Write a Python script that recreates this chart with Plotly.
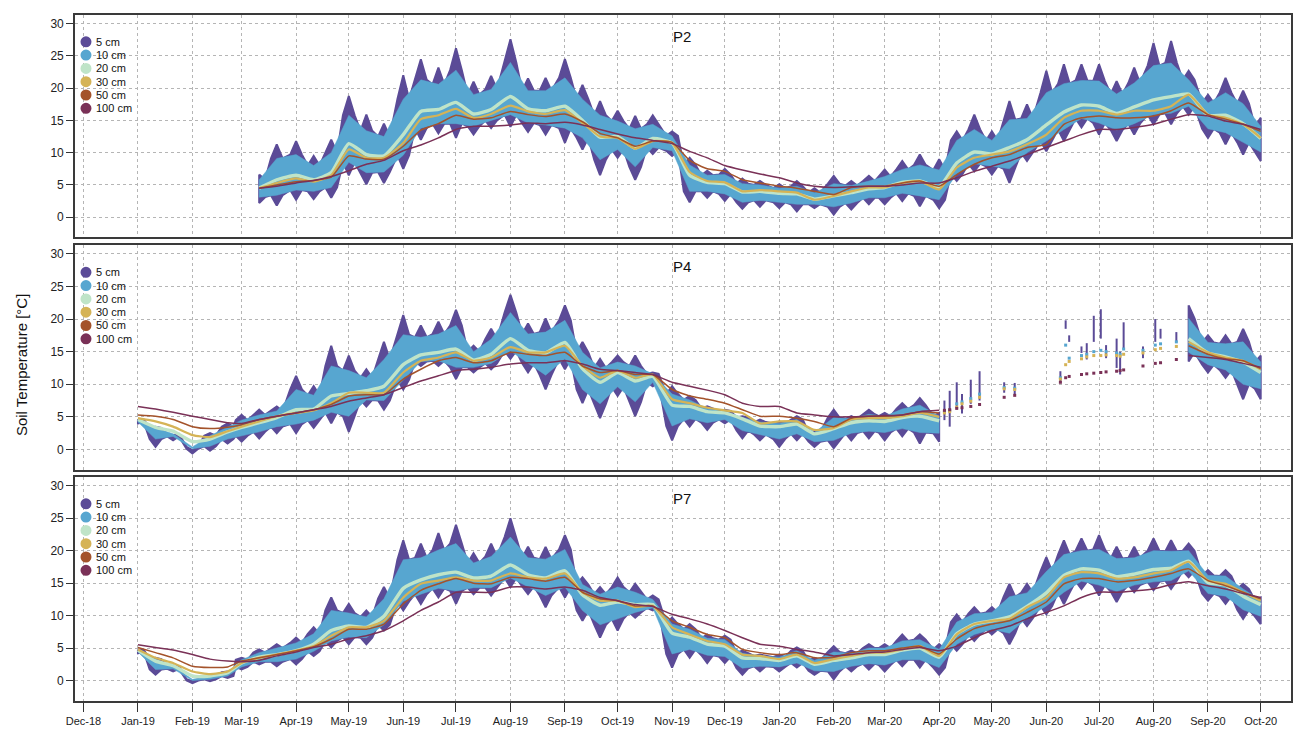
import plotly.graph_objects as go
import pandas as pd

# ---------------- data (dekad grid: 1st, 11th, 21st of each month) ----------------
dates = []
for yr, mo in [(2019, m) for m in range(1, 13)] + [(2020, m) for m in range(1, 10)]:
    for dd in (1, 11, 21):
        dates.append(f"{yr}-{mo:02d}-{dd:02d}")
dates.append("2020-10-01")

N = None
# ---- P2 ----
p2_t5_hi = [N]*7 + [6.6, 11.3, 11.8, 9.5, 12.0, 18.8, 15.9, 14.5, 22.0, 24.5, 23.2, 26.2, 21.0, 21.9, 27.6, 21.5, 21.6, 24.5, 20.5, 18.0, 16.5, 15.7, 15.8, 13.3, 9.2, 7.2, 7.5, 6.0, 5.6,
                5.1, 5.6, 4.5, 6.4, 5.6, 6.4, 7.4, 8.7, 9.7, 9.0, 13.3, 15.9, 13.3, 18.0, 17.5, 22.7, 23.7, 23.7, 23.7, 21.1, 23.2, 27.0, 27.3, 22.7, 19.0, 21.6, 19.6, 15.4]
p2_t5_lo = [N]*7 + [2.2, 1.8, 2.7, 2.8, 3.0, 6.5, 5.1, 5.3, 7.5, 12.0, 13.0, 12.3, 12.8, 13.8, 14.0, 13.2, 12.8, 11.5, 10.5, 6.5, 9.2, 5.8, 9.8, 9.5, 2.3, 3.0, 2.5, 1.3, 1.6,
                1.4, 0.9, 1.4, 0.4, 1.2, 2.0, 2.0, 2.5, 1.7, 1.4, 5.6, 7.1, 6.6, 5.3, 8.7, 10.2, 11.8, 13.9, 12.8, 11.8, 12.8, 14.4, 14.4, 15.9, 12.3, 11.3, 9.7, 8.7]
p2_t10_hi = [N]*7 + [5.8, 9.1, 9.7, 8.0, 10.0, 15.8, 13.4, 12.5, 18.3, 21.3, 20.6, 22.8, 19.0, 19.8, 24.0, 19.6, 19.6, 21.6, 18.3, 15.8, 14.9, 13.7, 14.4, 12.6, 8.1, 6.5, 6.6, 5.2, 5.0,
                 4.5, 4.8, 3.8, 5.2, 4.9, 5.6, 6.3, 7.4, 8.1, 7.3, 11.9, 13.6, 11.9, 15.1, 15.3, 19.3, 20.7, 21.2, 21.1, 19.1, 20.8, 23.5, 23.9, 21.3, 17.7, 19.3, 17.6, 14.1]
p2_t10_lo = [N]*7 + [3.1, 3.4, 4.2, 4.0, 4.6, 8.5, 6.9, 7.0, 9.6, 13.8, 14.5, 14.5, 14.1, 15.0, 15.9, 14.6, 14.3, 13.8, 12.3, 8.9, 10.5, 7.8, 10.8, 10.3, 4.0, 4.0, 3.6, 2.3, 2.6,
                 2.3, 2.0, 2.0, 1.6, 2.2, 3.0, 3.0, 3.7, 3.3, 2.7, 6.7, 8.3, 7.9, 7.5, 10.0, 11.8, 13.6, 15.3, 14.6, 13.5, 14.5, 15.9, 16.1, 17.2, 13.7, 13.1, 11.6, 10.1]
p2_t20 = [N]*7 + [4.5, 5.8, 6.5, 5.8, 6.9, 11.4, 9.7, 9.5, 12.8, 16.4, 16.7, 17.8, 16.0, 16.7, 18.7, 16.8, 16.5, 17.2, 15.0, 12.4, 12.5, 10.7, 12.2, 11.5, 6.5, 5.4, 5.2, 3.9, 4.0,
              3.7, 3.6, 2.8, 3.3, 3.8, 4.4, 4.6, 5.4, 5.6, 4.7, 8.4, 10.1, 9.8, 10.8, 12.0, 14.3, 16.3, 17.4, 17.2, 16.1, 17.1, 18.2, 18.7, 19.1, 15.8, 15.8, 14.5, 12.2]
p2_t30 = [N]*7 + [4.5, 5.3, 6.0, 5.5, 6.5, 10.5, 9.2, 9.2, 11.5, 15.2, 15.8, 16.8, 15.4, 16.0, 17.3, 16.4, 16.0, 16.6, 14.6, 12.5, 12.3, 10.6, 11.8, 11.5, 7.0, 5.6, 5.4, 4.0, 4.2,
              4.0, 3.8, 2.7, 3.3, 4.0, 4.6, 4.6, 5.3, 5.6, 4.3, 7.7, 9.2, 9.7, 10.2, 11.3, 12.8, 15.4, 16.5, 16.5, 15.9, 16.5, 16.5, 17.2, 19.0, 15.9, 15.4, 14.4, 12.3]
p2_t50 = [N]*7 + [4.5, 5.0, 5.5, 5.7, 6.2, 9.5, 9.0, 9.0, 11.0, 13.5, 14.5, 15.8, 15.2, 15.4, 16.4, 15.9, 15.6, 16.0, 14.8, 13.0, 12.3, 11.0, 11.8, 11.6, 8.8, 7.5, 7.1, 5.8, 5.3,
              4.8, 4.5, 4.0, 3.5, 4.6, 4.8, 4.8, 5.3, 5.6, 4.8, 6.6, 8.2, 9.2, 9.7, 10.8, 11.3, 14.4, 15.4, 15.7, 15.4, 15.4, 15.7, 16.5, 17.7, 15.9, 15.2, 14.4, 13.3]
p2_t100 = [N]*7 + [4.5, 4.8, 5.3, 5.7, 6.3, 7.2, 8.2, 8.8, 10.3, 11.2, 12.3, 13.6, 14.1, 14.1, 14.3, 14.6, 14.5, 14.7, 14.3, 13.6, 12.9, 12.3, 11.9, 11.4, 10.2, 9.2, 8.0, 7.3, 6.7,
               6.1, 5.3, 4.8, 4.6, 4.7, 4.8, 4.8, 5.0, 5.3, 5.3, 6.1, 7.1, 7.9, 8.7, 9.7, 10.8, 11.8, 12.8, 13.6, 13.6, 13.9, 14.4, 15.2, 15.9, 15.7, 14.9, 14.4, 13.6]

# ---- P4 ----
p4_t5_hi = [4.6, 3.5, 2.2, -0.1, 2.5, 4.0, 5.3, 6.1, 6.6, 11.3, 9.7, 15.9, 14.4, 12.3, 16.5, 20.6, 19.0, 19.6, 21.4, 15.9, 18.5, 23.7, 19.3, 20.1, 22.1, 16.5, 13.9, 14.4, 14.4, 11.8, 9.7, 8.2, 6.6, 6.1, 5.1, 4.6,
            4.3, 5.1, 2.8, 6.1, 5.1, 6.1, 5.6, 7.1, 7.9, 5.6] + [N]*13 + [22.1, 17.5, 17.5, 18.5, 14.4]
p4_t5_lo = [4.0, 0.4, 1.4, -0.6, -0.2, 0.9, 1.2, 1.7, 2.5, 2.5, 3.3, 4.0, 2.7, 6.6, 6.1, 9.2, 12.8, 12.8, 10.8, 11.8, 12.3, 13.9, 11.8, 9.2, 12.3, 7.1, 4.8, 8.2, 5.1, 9.7, 1.4, 3.5, 3.0, 4.0, 1.7, 1.4,
            0.4, 1.4, 0.4, 0.2, 1.4, 1.7, 1.4, 2.0, 0.9, 1.2] + [N]*13 + [13.5, 11.8, 11.0, 7.7, 7.7]
p4_t10_hi = [4.6, 3.3, 2.4, 0.4, 2.1, 3.5, 4.5, 5.3, 5.9, 9.2, 8.3, 12.8, 12.1, 11.0, 13.8, 17.6, 17.2, 17.7, 19.0, 15.0, 16.9, 21.0, 17.7, 18.0, 19.8, 14.9, 12.5, 13.4, 12.8, 11.6, 8.5, 7.6, 6.3, 5.9, 4.9, 4.2,
             4.0, 4.6, 2.6, 4.9, 4.7, 5.4, 5.1, 6.2, 6.8, 5.1] + [N]*13 + [20.1, 16.4, 16.2, 16.5, 13.4]
p4_t10_lo = [4.2, 1.6, 2.0, 0.1, 0.5, 1.6, 2.1, 2.7, 3.5, 3.9, 4.5, 5.7, 5.1, 7.6, 7.5, 10.7, 13.5, 13.6, 12.6, 12.6, 13.2, 15.1, 13.2, 11.4, 13.9, 9.2, 7.0, 9.6, 7.3, 10.3, 3.6, 4.7, 4.1, 4.6, 2.9, 2.3,
             1.6, 2.4, 1.2, 1.4, 2.5, 2.8, 2.6, 3.2, 2.6, 2.5] + [N]*13 + [14.9, 13.0, 12.2, 10.0, 9.3]
p4_t20 = [4.6, 3.4, 2.8, 1.2, 1.6, 2.7, 3.4, 4.1, 4.9, 6.1, 6.2, 8.2, 8.6, 9.0, 9.7, 13.0, 14.5, 14.9, 15.4, 13.7, 14.6, 17.0, 15.2, 14.8, 16.4, 12.4, 10.3, 11.8, 10.5, 11.2, 6.8, 6.6, 5.8, 5.6, 4.7, 3.6,
          3.5, 3.9, 2.4, 3.2, 4.1, 4.4, 4.3, 4.9, 5.1, 4.4] + [N]*13 + [17.0, 14.8, 14.2, 13.4, 11.8]
p4_t30 = [4.8, 4.3, 3.5, 2.2, 1.9, 2.8, 3.5, 4.3, 5.1, 5.6, 6.0, 7.1, 8.7, 8.7, 8.7, 11.8, 13.6, 14.1, 14.9, 13.6, 14.1, 15.7, 14.9, 14.9, 15.9, 12.8, 11.0, 12.1, 11.0, 11.5, 7.7, 7.1, 6.4, 6.0, 5.6, 4.0,
          4.3, 4.3, 3.0, 3.3, 4.6, 4.8, 4.8, 5.1, 5.6, 5.0] + [N]*13 + [16.5, 14.9, 14.1, 13.6, 12.3]
p4_t50 = [5.3, 5.1, 4.6, 3.5, 3.2, 3.4, 3.8, 4.6, 5.1, 5.6, 6.1, 6.9, 8.2, 8.4, 8.4, 10.8, 12.3, 13.6, 14.1, 13.3, 13.6, 14.9, 14.6, 14.4, 14.9, 12.8, 11.8, 12.1, 11.5, 11.5, 9.2, 8.2, 7.7, 7.1, 6.1, 5.1,
          5.1, 4.8, 4.3, 3.5, 4.8, 5.1, 5.1, 5.3, 5.8, 5.6] + [N]*13 + [15.9, 14.6, 13.9, 13.6, 12.4]
p4_t100 = [6.6, 6.2, 5.7, 5.1, 4.6, 4.1, 4.0, 4.6, 5.1, 5.6, 6.1, 6.6, 7.4, 7.9, 8.4, 9.5, 10.5, 11.3, 12.1, 12.3, 12.6, 13.1, 13.3, 13.3, 13.6, 13.1, 12.3, 12.1, 11.8, 11.5, 10.3, 9.7, 9.1, 8.4, 7.1, 6.6,
           6.6, 5.6, 5.3, 5.0, 5.0, 5.1, 5.2, 5.3, 5.8, 6.0] + [N]*13 + [14.4, 14.1, 13.8, 13.2, 12.6]

# P4 scattered records, Apr-Aug 2020
p4_frag_dates = ["2020-04-04", "2020-04-07", "2020-04-11", "2020-04-14", "2020-04-19", "2020-04-24", "2020-05-08", "2020-05-14",
                 "2020-06-09", "2020-06-12", "2020-06-14", "2020-06-21", "2020-06-24", "2020-06-28", "2020-07-02", "2020-07-05",
                 "2020-07-11", "2020-07-13", "2020-07-15", "2020-07-26", "2020-08-02", "2020-08-05", "2020-08-14"]
p4_frag_lo5 = [4.5, 3.5, 6.5, 5.5, 7.0, 7.5, 8.7, 8.5, 10.2, 18.5, 16.5, 14.8, 13.8, 16.5, 17.0, 14.0, 12.5, 11.5, 15.5, 14.0, 16.5, 17.0, 16.5]
p4_frag_hi5 = [7.5, 9.0, 10.3, 8.5, 10.7, 12.0, 10.3, 10.2, 12.0, 19.8, 17.5, 15.8, 16.3, 20.5, 21.5, 16.0, 17.0, 15.0, 19.5, 15.8, 20.0, 18.5, 18.0]
p4_frag_t20 = [5.8, 6.0, 7.0, 7.3, 7.8, 8.5, 9.5, 9.4, 11.0, 16.0, 14.0, 14.4, 14.6, 15.0, 15.2, 15.0, 14.8, 14.6, 15.4, 15.2, 16.0, 16.2, 16.5]
p4_frag_t30 = [5.6, 5.8, 6.5, 7.0, 7.4, 8.0, 9.3, 9.2, 10.8, 13.0, 13.5, 13.9, 14.2, 14.4, 14.4, 14.5, 14.4, 14.3, 14.6, 14.8, 15.3, 15.5, 15.8]
p4_frag_t100 = [6.0, 6.1, 6.3, 6.4, 6.6, 6.9, 8.0, 8.3, 10.3, 11.0, 11.2, 11.5, 11.6, 11.7, 11.8, 11.9, 12.0, 12.1, 12.2, 12.8, 13.2, 13.3, 13.8]

# ---- P7 ----
p7_t5_hi = [4.8, 3.5, 2.2, -0.1, 0.7, 1.4, 3.5, 4.8, 5.6, 6.6, 8.2, 12.8, 11.8, 10.8, 14.4, 21.6, 21.1, 22.7, 24.0, 19.6, 21.1, 25.0, 20.6, 20.6, 22.4, 15.9, 14.4, 15.9, 14.9, 13.1, 9.7, 8.7, 7.1, 6.9, 4.6, 4.0,
            4.0, 5.1, 3.5, 5.3, 4.6, 5.6, 5.6, 7.1, 7.1, 5.6, 10.2, 11.3, 11.3, 14.9, 14.9, 19.0, 21.6, 21.9, 22.4, 20.6, 20.6, 21.9, 21.6, 21.1, 17.0, 17.0, 14.9, 12.8]
p7_t5_lo = [4.2, 0.9, 1.4, -0.4, -0.1, 0.4, 1.7, 2.5, 2.2, 2.5, 3.8, 5.1, 5.6, 5.6, 7.7, 10.8, 11.8, 12.8, 11.8, 13.3, 13.1, 14.4, 13.3, 11.3, 12.8, 9.2, 6.6, 7.7, 9.7, 10.8, 2.0, 3.5, 2.7, 2.7, 0.9, 1.4,
            1.4, 2.0, 0.9, 0.2, 1.4, 1.7, 1.4, 2.2, 2.0, 0.9, 4.6, 6.1, 7.1, 5.6, 8.4, 10.2, 11.8, 14.1, 13.1, 12.1, 13.6, 13.9, 14.1, 15.9, 12.3, 11.8, 9.5, 8.7]
p7_t10_hi = [4.7, 3.3, 2.2, 0.2, 0.7, 1.3, 3.2, 4.3, 5.0, 5.8, 7.2, 10.8, 10.4, 9.8, 12.6, 18.6, 18.9, 20.1, 21.1, 18.1, 19.1, 22.1, 18.9, 18.7, 20.2, 14.8, 13.3, 14.4, 13.6, 12.5, 8.7, 7.9, 6.5, 6.3, 4.2, 3.8,
             3.6, 4.6, 3.1, 4.4, 4.2, 5.0, 5.0, 6.1, 6.3, 4.8, 9.0, 10.3, 10.5, 12.9, 13.5, 16.8, 19.4, 20.0, 20.2, 18.8, 18.9, 20.0, 19.9, 20.0, 16.2, 16.1, 14.1, 12.4]
p7_t10_lo = [4.4, 1.7, 1.8, 0.0, 0.2, 0.7, 2.1, 2.9, 2.9, 3.3, 4.5, 6.1, 6.7, 6.6, 8.6, 12.2, 13.3, 14.2, 13.8, 14.3, 14.3, 15.8, 14.5, 13.1, 14.4, 10.8, 8.6, 9.5, 10.5, 11.2, 4.1, 4.8, 3.9, 3.7, 1.9, 2.2,
             2.1, 2.7, 1.5, 1.4, 2.2, 2.6, 2.4, 3.2, 3.2, 2.0, 5.6, 7.1, 7.9, 7.3, 9.6, 11.5, 13.6, 15.3, 14.7, 13.7, 14.7, 15.2, 15.4, 16.9, 13.4, 13.0, 10.9, 9.9]
p7_t20 = [4.7, 3.0, 2.3, 0.7, 0.7, 1.2, 2.7, 3.6, 4.0, 4.6, 5.6, 7.7, 8.4, 8.2, 9.9, 14.2, 15.5, 16.3, 16.7, 15.8, 16.1, 17.8, 16.3, 15.8, 16.9, 13.2, 11.6, 12.1, 11.7, 11.7, 7.3, 6.7, 5.6, 5.3, 3.5, 3.4,
          3.1, 3.8, 2.5, 3.1, 3.5, 4.0, 4.0, 4.7, 5.0, 3.6, 7.2, 8.7, 9.2, 9.8, 11.4, 13.5, 16.2, 17.2, 17.0, 16.0, 16.4, 17.1, 17.3, 18.4, 15.1, 14.7, 13.0, 11.7]
p7_t30 = [4.8, 3.5, 2.7, 1.4, 1.0, 1.4, 2.7, 3.5, 4.0, 4.6, 5.3, 6.9, 8.2, 8.2, 9.2, 12.8, 14.9, 15.4, 15.9, 15.4, 15.4, 16.5, 15.9, 15.7, 16.5, 13.6, 12.3, 12.3, 11.3, 11.5, 8.2, 7.1, 6.1, 5.6, 4.0, 3.8,
          3.3, 4.0, 2.7, 3.3, 3.8, 4.3, 4.3, 4.8, 5.3, 3.8, 7.1, 8.7, 9.2, 9.5, 11.3, 12.8, 15.9, 16.7, 16.5, 15.7, 15.9, 16.5, 17.0, 18.3, 15.4, 14.9, 13.6, 12.3]
p7_t50 = [5.1, 4.3, 3.5, 2.2, 2.0, 2.1, 3.0, 3.5, 4.0, 4.6, 5.2, 6.4, 7.9, 7.9, 8.7, 11.8, 13.9, 14.9, 15.7, 15.0, 14.9, 15.9, 15.7, 15.3, 15.9, 13.6, 12.6, 12.3, 11.5, 11.5, 9.2, 8.2, 7.1, 6.6, 4.8, 4.3,
          4.0, 4.3, 3.5, 3.6, 4.3, 4.6, 4.6, 5.0, 5.3, 4.1, 6.4, 8.0, 8.7, 9.2, 10.5, 12.1, 14.9, 15.7, 15.7, 15.2, 15.4, 15.9, 16.5, 17.2, 15.4, 14.6, 13.6, 12.6]
p7_t100 = [5.5, 5.1, 4.7, 4.0, 3.3, 3.0, 2.9, 3.1, 3.8, 4.4, 5.1, 5.6, 6.4, 6.9, 7.7, 9.2, 10.8, 12.1, 13.6, 13.6, 13.6, 14.4, 14.4, 14.1, 14.4, 13.9, 12.8, 12.3, 11.7, 11.4, 10.2, 9.5, 8.7, 7.7, 6.6, 5.6,
           5.3, 4.8, 4.4, 3.8, 4.0, 4.3, 4.4, 4.8, 5.1, 4.6, 5.3, 6.6, 7.7, 8.4, 9.5, 10.5, 11.5, 12.8, 13.6, 13.6, 13.8, 14.1, 14.8, 15.2, 14.6, 14.1, 13.4, 12.8]

depth_labels = ["5 cm", "10 cm", "20 cm", "30 cm", "50 cm", "100 cm"]
panel_names = ["P2", "P4", "P7"]
month_ticks = ["2018-12-01", "2019-01-01", "2019-02-01", "2019-03-01", "2019-04-01", "2019-05-01", "2019-06-01", "2019-07-01",
               "2019-08-01", "2019-09-01", "2019-10-01", "2019-11-01", "2019-12-01", "2020-01-01", "2020-02-01", "2020-03-01",
               "2020-04-01", "2020-05-01", "2020-06-01", "2020-07-01", "2020-08-01", "2020-09-01", "2020-10-01"]
month_labels = ["Dec-18", "Jan-19", "Feb-19", "Mar-19", "Apr-19", "May-19", "Jun-19", "Jul-19", "Aug-19", "Sep-19", "Oct-19",
                "Nov-19", "Dec-19", "Jan-20", "Feb-20", "Mar-20", "Apr-20", "May-20", "Jun-20", "Jul-20", "Aug-20", "Sep-20", "Oct-20"]

# ---------------- style ----------------
COL = ["#5b4b97", "#57a6d0", "#bfe4c8", "#d5b356", "#a4532b", "#7a3157"]
FONT = "Arial, Liberation Sans, sans-serif"
ML, MR, MT, MB = 75, 1, 15, 28
W, H = 1294, 729
PH = H - MT - MB
domains = [[0.6757, 1.0], [0.3367, 0.6647], [0.0, 0.3265]]
SPIKE = pd.Timedelta(hours=80)   # half width of a spike, drawing style only
ts = [pd.Timestamp(d) for d in dates]


def segments(*arrays):
    segs, i, n = [], 0, len(arrays[0])
    while i < n:
        if any(a[i] is None for a in arrays):
            i += 1
            continue
        j = i
        while j < n and all(a[j] is not None for a in arrays):
            j += 1
        segs.append(list(range(i, j)))
        i = j
    return segs


def spiky_polygon(lo_out, hi_out, lo_in, hi_in):
    """Outer band whose edges follow the inner band and reach the outer values as spikes."""
    px, py = [], []
    for seg in segments(lo_out, hi_out, lo_in, hi_in):
        if px:
            px.append(None)
            py.append(None)
        up_x, up_y, dn_x, dn_y = [], [], [], []
        for k in seg:
            t = ts[k]
            if k != seg[0]:
                up_x.append(t - SPIKE); up_y.append(hi_in[k])
                dn_x.append(t - SPIKE); dn_y.append(lo_in[k])
            up_x.append(t); up_y.append(hi_out[k])
            dn_x.append(t); dn_y.append(lo_out[k])
            if k != seg[-1]:
                up_x.append(t + SPIKE); up_y.append(hi_in[k])
                dn_x.append(t + SPIKE); dn_y.append(lo_in[k])
        px += up_x + dn_x[::-1] + [up_x[0]]
        py += up_y + dn_y[::-1] + [up_y[0]]
    return px, py


def band_polygon(lo, hi):
    px, py = [], []
    for seg in segments(lo, hi):
        if px:
            px.append(None)
            py.append(None)
        px += [ts[k] for k in seg] + [ts[k] for k in reversed(seg)] + [ts[seg[0]]]
        py += [hi[k] for k in seg] + [lo[k] for k in reversed(seg)] + [hi[seg[0]]]
    return px, py


panels = [
    dict(hi5=p2_t5_hi, lo5=p2_t5_lo, hi10=p2_t10_hi, lo10=p2_t10_lo, t20=p2_t20, t30=p2_t30, t50=p2_t50, t100=p2_t100),
    dict(hi5=p4_t5_hi, lo5=p4_t5_lo, hi10=p4_t10_hi, lo10=p4_t10_lo, t20=p4_t20, t30=p4_t30, t50=p4_t50, t100=p4_t100),
    dict(hi5=p7_t5_hi, lo5=p7_t5_lo, hi10=p7_t10_hi, lo10=p7_t10_lo, t20=p7_t20, t30=p7_t30, t50=p7_t50, t100=p7_t100),
]

fig = go.Figure()
for p, d in enumerate(panels):
    xa = "x" if p == 0 else f"x{p+1}"
    ya = "y" if p == 0 else f"y{p+1}"
    # 5 cm: spikes reaching the extremes, around the 10 cm band
    bx, by = spiky_polygon(d["lo5"], d["hi5"], d["lo10"], d["hi10"])
    fig.add_trace(go.Scatter(x=bx, y=by, fill="toself", fillcolor=COL[0], mode="lines",
                             line=dict(color=COL[0], width=2.0), xaxis=xa, yaxis=ya, showlegend=False, hoverinfo="skip"))
    # 10 cm band
    bx, by = band_polygon(d["lo10"], d["hi10"])
    fig.add_trace(go.Scatter(x=bx, y=by, fill="toself", fillcolor=COL[1], mode="lines",
                             line=dict(color=COL[1], width=0.5), xaxis=xa, yaxis=ya, showlegend=False, hoverinfo="skip"))
    for key, c, w in [("t20", COL[2], 3.4), ("t30", COL[3], 2.2), ("t50", COL[4], 1.5), ("t100", COL[5], 1.5)]:
        fig.add_trace(go.Scatter(x=dates, y=d[key], mode="lines", line=dict(color=c, width=w, shape="spline", smoothing=0.5),
                                 connectgaps=False, xaxis=xa, yaxis=ya, showlegend=False, hoverinfo="skip"))
    if p == 1:
        sx, sy = [], []
        for dt, lo, hi in zip(p4_frag_dates, p4_frag_lo5, p4_frag_hi5):
            sx += [dt, dt, None]
            sy += [lo, hi, None]
        fig.add_trace(go.Scatter(x=sx, y=sy, mode="lines", line=dict(color=COL[0], width=2),
                                 xaxis=xa, yaxis=ya, showlegend=False, hoverinfo="skip"))
        for arr, c in [(p4_frag_t20, COL[1]), (p4_frag_t30, COL[3]), (p4_frag_t100, COL[5])]:
            fig.add_trace(go.Scatter(x=p4_frag_dates, y=arr, mode="markers", marker=dict(color=c, size=3, symbol="square"),
                                     xaxis=xa, yaxis=ya, showlegend=False, hoverinfo="skip"))

# ---------------- axes ----------------
xrange = ["2018-11-26 04:00", "2020-10-18 06:00"]
grid = dict(showgrid=True, gridcolor="#b5b5b5", griddash="dot", gridwidth=1)
layout = dict(width=W, height=H, margin=dict(l=ML, r=MR, t=MT, b=MB), plot_bgcolor="white", paper_bgcolor="white",
              font=dict(family=FONT, color="#222"), showlegend=False, shapes=[], annotations=[])
for p in range(3):
    xk = "xaxis" if p == 0 else f"xaxis{p+1}"
    yk = "yaxis" if p == 0 else f"yaxis{p+1}"
    ya = "y" if p == 0 else f"y{p+1}"
    xa = "x" if p == 0 else f"x{p+1}"
    layout[xk] = dict(domain=[0, 1], anchor=ya, range=xrange, type="date", tickmode="array", tickvals=month_ticks,
                      ticktext=month_labels, showticklabels=(p == 2), ticks="outside" if p == 2 else "",
                      ticklen=9, tickwidth=1.2, tickcolor="#333", tickfont=dict(size=11, color="#222"),
                      showline=True, mirror=True, linecolor="#3a3a3a", linewidth=1.6, zeroline=False, **grid)
    layout[yk] = dict(domain=domains[p], anchor=xa, range=[-3.15, 31.35], tickmode="array", tickvals=[0, 5, 10, 15, 20, 25, 30],
                      ticks="outside", ticklen=7, tickwidth=1.2, tickcolor="#333", tickfont=dict(size=12, color="#222"),
                      showline=True, mirror=True, linecolor="#3a3a3a", linewidth=1.6, zeroline=False, **grid)


def py_paper(ypx):
    return (H - MB - ypx) / PH


def px_paper(xpx):
    return (xpx - ML) / (W - ML - MR)


panel_tops = [15, 245.5, 477]
for p in range(3):
    top = panel_tops[p]
    layout["annotations"].append(dict(text=panel_names[p], x=px_paper(683), y=py_paper(top + 21), xref="paper", yref="paper",
                                      showarrow=False, font=dict(size=15, color="#111"), xanchor="center", yanchor="middle"))
    for k, lab in enumerate(depth_labels):
        yc = top + 26.8 + k * 13.3
        layout["shapes"].append(dict(type="circle", xref="paper", yref="paper", xsizemode="pixel", ysizemode="pixel",
                                     xanchor=px_paper(86), yanchor=py_paper(yc), x0=-5.5, x1=5.5, y0=-5.5, y1=5.5,
                                     fillcolor=COL[k], line=dict(width=0), layer="above"))
        layout["annotations"].append(dict(text=lab, x=px_paper(94), y=py_paper(yc), xref="paper", yref="paper",
                                          showarrow=False, font=dict(size=11, color="#111"), xanchor="left", yanchor="middle"))

layout["annotations"].append(dict(text="Soil Temperature [°C]", x=px_paper(21), y=py_paper(365), xref="paper", yref="paper",
                                  showarrow=False, textangle=-90, font=dict(size=15, color="#111"), xanchor="center", yanchor="middle"))
fig.update_layout(**layout)
fig.write_html("out.html")
